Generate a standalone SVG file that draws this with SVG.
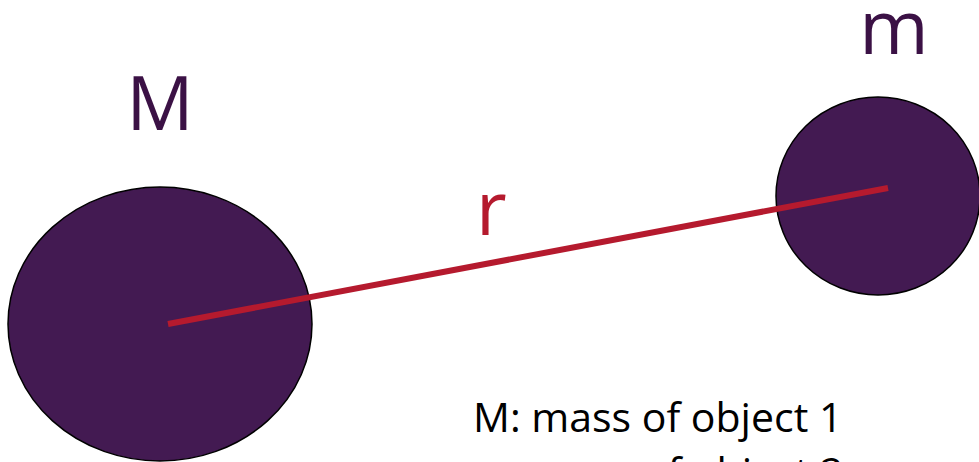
<svg xmlns="http://www.w3.org/2000/svg" width="979" height="462" viewBox="0 0 979 462">
<style>
.body{fill:#431A52;stroke:#000;stroke-width:1.5}
.lbl{font-family:"Open Sans","Noto Sans",sans-serif;font-size:75px;fill:#3B1145}
.note{font-family:"Open Sans","Noto Sans",sans-serif;font-size:41px;fill:#000}
.conn{stroke:#B51A2E;stroke-width:6;fill:none}
</style>
<rect width="979" height="462" fill="#fff"/>
<g id="mass-M">
<ellipse class="body" cx="160" cy="324" rx="152" ry="137"/>
<text class="lbl" x="160" y="130" text-anchor="middle">M</text>
</g>
<g id="mass-m">
<ellipse class="body" cx="878" cy="196" rx="102" ry="99"/>
<text class="lbl" x="894" y="54" text-anchor="middle">m</text>
</g>
<g id="connectors">
<line class="conn" x1="168" y1="324" x2="888" y2="188"/>
<text class="lbl" x="476" y="235" style="fill:#B51A2E">r</text>
</g>
<g id="legend">
<text class="note" x="473" y="432">M: mass of object 1</text>
<text class="note" x="473" y="487">m: mass of object 2</text>
</g>
</svg>
